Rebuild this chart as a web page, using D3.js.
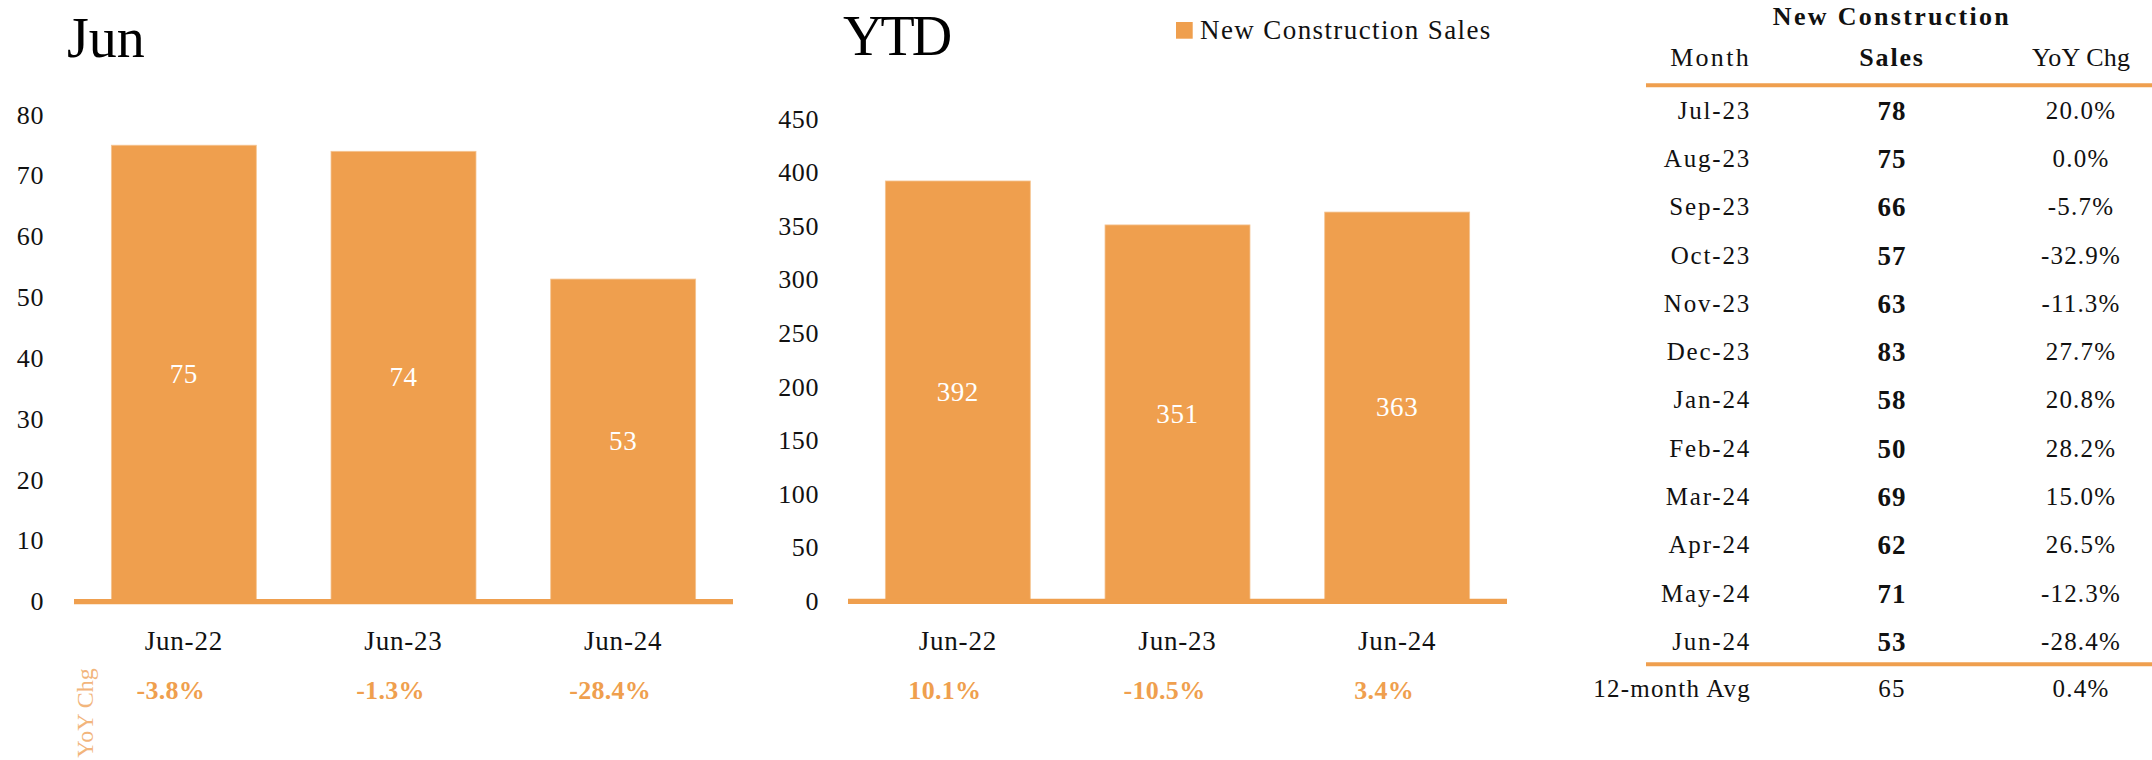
<!DOCTYPE html>
<html>
<head>
<meta charset="utf-8">
<script src="https://cdn.jsdelivr.net/npm/d3@7"></script>
<style>
  html, body { margin: 0; padding: 0; background: #fff; }
  svg { display: block; font-family: "Liberation Serif", "Times New Roman", serif; }
</style>
</head>
<body>
<svg id="chart" width="2152" height="760"></svg>
<script>
// ---------- data ----------
const periods = ["Jun-22", "Jun-23", "Jun-24"];
const junSales = [75, 74, 53];
const junYoY = ["-3.8%", "-1.3%", "-28.4%"];
const ytdSales = [392, 351, 363];
const ytdYoY = ["10.1%", "-10.5%", "3.4%"];
const junTicks = [0, 10, 20, 30, 40, 50, 60, 70, 80];
const ytdTicks = [0, 50, 100, 150, 200, 250, 300, 350, 400, 450];
const legendLabel = "New Construction Sales";
const yoyLabel = "YoY Chg";

const tableTitle = "New Construction";
const tableHeaders = ["Month", "Sales", "YoY Chg"];
const tableMonths = ["Jul-23", "Aug-23", "Sep-23", "Oct-23", "Nov-23", "Dec-23",
                     "Jan-24", "Feb-24", "Mar-24", "Apr-24", "May-24", "Jun-24"];
const tableSales = [78, 75, 66, 57, 63, 83, 58, 50, 69, 62, 71, 53];
const tableYoY = ["20.0%", "0.0%", "-5.7%", "-32.9%", "-11.3%", "27.7%",
                  "20.8%", "28.2%", "15.0%", "26.5%", "-12.3%", "-28.4%"];
const avgLabel = "12-month Avg";
const avgSales = 65;
const avgYoY = "0.4%";

// ---------- styles ----------
const ORANGE = "#EF9F4E";
const ORANGE_EDGE = "#F5C593";
const ORANGE_LIGHT = "#F2B57C";
const INK = "#111";

const svg = d3.select("#chart");

function drawChart(opt) {
  const g = svg.append("g");
  const x = d3.scaleBand().domain(periods).range(opt.xRange)
    .paddingInner(0.34).paddingOuter(0.17);
  const y = d3.scaleLinear().domain(opt.yDomain).range(opt.yRange);

  // title
  g.append("text").attr("x", opt.titleX).attr("y", opt.titleY)
    .attr("font-size", 56).style("letter-spacing", opt.titleSpacing + "px")
    .attr("fill", "#000").text(opt.title);

  // y axis (labels only)
  const ya = d3.axisLeft(y).tickValues(opt.ticks).tickSize(0).tickPadding(0)
    .tickFormat(d3.format("d"));
  const yg = g.append("g").attr("transform", `translate(${opt.yLabelX},0)`).call(ya)
    .attr("font-family", null).attr("font-size", null);
  yg.select(".domain").remove();
  yg.selectAll("text").attr("font-size", 26)
    .attr("fill", INK).style("letter-spacing", "0.6px");

  // bars
  g.selectAll("rect.bar").data(opt.values).join("rect").attr("class", "bar")
    .attr("x", (d, i) => x(periods[i]))
    .attr("y", d => y(d))
    .attr("width", x.bandwidth())
    .attr("height", d => y(0) - y(d))
    .attr("fill", ORANGE).attr("stroke", ORANGE_EDGE).attr("stroke-width", 0.8);

  // baseline axis line
  g.append("line").attr("x1", opt.xRange[0]).attr("x2", opt.xRange[1])
    .attr("y1", y(0) + 0.2).attr("y2", y(0) + 0.2)
    .attr("stroke", ORANGE).attr("stroke-width", 5.3);

  // value labels
  g.selectAll("text.val").data(opt.values).join("text").attr("class", "val")
    .attr("x", (d, i) => x(periods[i]) + x.bandwidth() / 2)
    .attr("y", d => (y(d) + y(0)) / 2)
    .attr("dy", "0.35em").attr("text-anchor", "middle")
    .attr("font-size", 27).style("letter-spacing", "0.6px")
    .attr("fill", "#fff").text(d => d);

  // x axis labels
  const xa = d3.axisBottom(x).tickSize(0).tickPadding(29.5);
  const xg = g.append("g").attr("transform", `translate(0,${y(0)})`).call(xa)
    .attr("font-family", null).attr("font-size", null);
  xg.select(".domain").remove();
  xg.selectAll("text").attr("font-size", 27)
    .attr("fill", INK).style("letter-spacing", "0.8px");

  // YoY row
  g.selectAll("text.yoy").data(opt.yoy).join("text").attr("class", "yoy")
    .attr("x", (d, i) => x(periods[i]) + x.bandwidth() / 2 - 13)
    .attr("y", 699).attr("text-anchor", "middle")
    .attr("font-size", 26).attr("font-weight", "bold").style("letter-spacing", "0.3px")
    .attr("fill", ORANGE).text(d => d);
  return { x, y };
}

drawChart({
  title: "Jun", titleX: 67, titleY: 57, titleSpacing: 0,
  xRange: [74, 733], yDomain: [0, 80], yRange: [601.5, 114.8],
  ticks: junTicks, yLabelX: 44, values: junSales, yoy: junYoY
});
drawChart({
  title: "YTD", titleX: 843, titleY: 55, titleSpacing: -3,
  xRange: [848, 1507], yDomain: [0, 450], yRange: [601.2, 118.8],
  ticks: ytdTicks, yLabelX: 819, values: ytdSales, yoy: ytdYoY
});

// rotated YoY label
svg.append("text").attr("transform", "translate(93,713) rotate(-90)")
  .attr("text-anchor", "middle").attr("font-size", 24)
  .attr("fill", ORANGE_LIGHT).text(yoyLabel);

// legend
svg.append("rect").attr("x", 1176).attr("y", 22).attr("width", 16.7).attr("height", 16.7)
  .attr("fill", ORANGE);
svg.append("text").attr("x", 1200).attr("y", 39).attr("font-size", 27)
  .style("letter-spacing", "1.4px").attr("fill", INK).text(legendLabel);

// ---------- table ----------
const t = svg.append("g");
const colMonthRight = 1751, colSales = 1892, colYoY = 2081;
const rowY = d3.scalePoint().domain(tableMonths).range([110.5, 641.7]);

t.append("text").attr("x", colSales).attr("y", 25).attr("text-anchor", "middle")
  .attr("font-size", 26).attr("font-weight", "bold").style("letter-spacing", "2.3px")
  .attr("fill", INK).text(tableTitle);

t.append("text").attr("x", colMonthRight).attr("y", 66).attr("text-anchor", "end")
  .attr("font-size", 26).style("letter-spacing", "2.3px").attr("fill", INK).text(tableHeaders[0]);
t.append("text").attr("x", colSales).attr("y", 66).attr("text-anchor", "middle")
  .attr("font-size", 26).attr("font-weight", "bold").style("letter-spacing", "1.8px")
  .attr("fill", INK).text(tableHeaders[1]);
t.append("text").attr("x", colYoY).attr("y", 66).attr("text-anchor", "middle")
  .attr("font-size", 26).style("letter-spacing", "0.2px").attr("fill", INK).text(tableHeaders[2]);

t.append("line").attr("x1", 1646).attr("x2", 2152).attr("y1", 85.3).attr("y2", 85.3)
  .attr("stroke", ORANGE).attr("stroke-width", 4);

t.selectAll("text.m").data(tableMonths).join("text").attr("class", "m")
  .attr("x", colMonthRight).attr("y", d => rowY(d)).attr("dy", "0.33em")
  .attr("text-anchor", "end").attr("font-size", 25).style("letter-spacing", "1.8px")
  .attr("fill", INK).text(d => d);
t.selectAll("text.s").data(tableSales).join("text").attr("class", "s")
  .attr("x", colSales).attr("y", (d, i) => rowY(tableMonths[i])).attr("dy", "0.34em")
  .attr("text-anchor", "middle").attr("font-size", 27).attr("font-weight", "bold")
  .style("letter-spacing", "1px").attr("fill", INK).text(d => d);
t.selectAll("text.y").data(tableYoY).join("text").attr("class", "y")
  .attr("x", colYoY).attr("y", (d, i) => rowY(tableMonths[i])).attr("dy", "0.33em")
  .attr("text-anchor", "middle").attr("font-size", 25)
  .style("letter-spacing", "1.2px").attr("fill", INK).text(d => d);

t.append("line").attr("x1", 1646).attr("x2", 2152).attr("y1", 664.3).attr("y2", 664.3)
  .attr("stroke", ORANGE).attr("stroke-width", 4);

t.append("text").attr("x", colMonthRight).attr("y", 689).attr("dy", "0.33em")
  .attr("text-anchor", "end").attr("font-size", 25).style("letter-spacing", "1.2px")
  .attr("fill", INK).text(avgLabel);
t.append("text").attr("x", colSales).attr("y", 689).attr("dy", "0.33em")
  .attr("text-anchor", "middle").attr("font-size", 25).style("letter-spacing", "1.2px")
  .attr("fill", INK).text(avgSales);
t.append("text").attr("x", colYoY).attr("y", 689).attr("dy", "0.33em")
  .attr("text-anchor", "middle").attr("font-size", 25).style("letter-spacing", "1.2px")
  .attr("fill", INK).text(avgYoY);
</script>
</body>
</html>
